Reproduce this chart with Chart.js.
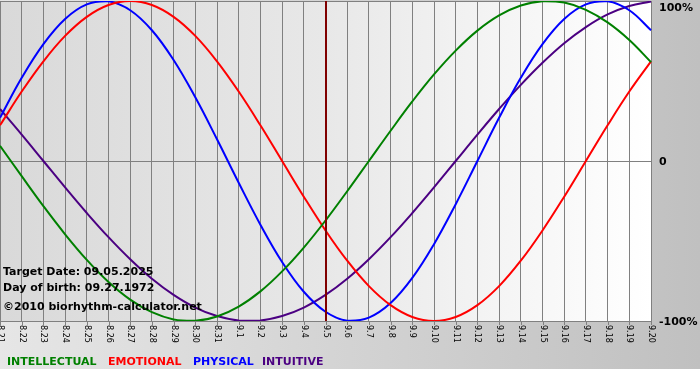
<!DOCTYPE html>
<html><head><meta charset="utf-8">
<script src="https://cdn.jsdelivr.net/npm/chart.js@4"></script>
<style>html,body{margin:0;padding:0;background:#fff}canvas{display:block}</style>
</head><body>
<canvas id="c" width="700" height="380"></canvas>
<script>
const days = ["8.21","8.22","8.23","8.24","8.25","8.26","8.27","8.28","8.29","8.30","8.31","9.1","9.2","9.3","9.4","9.5","9.6","9.7","9.8","9.9","9.10","9.11","9.12","9.13","9.14","9.15","9.16","9.17","9.18","9.19","9.20"];
const intellectual = [9.5,-9.5,-28.2,-45.8,-61.8,-75.6,-86.6,-94.5,-99.0,-99.9,-97.2,-91.0,-81.5,-69.0,-54.1,-37.2,-18.9,0,18.9,37.2,54.1,69.0,81.5,91.0,97.2,99.9,99.0,94.5,86.6,75.6,61.8];
const emotional = [22.3,43.4,62.3,78.2,90.1,97.5,100,97.5,90.1,78.2,62.3,43.4,22.3,0,-22.3,-43.4,-62.3,-78.2,-90.1,-97.5,-100,-97.5,-90.1,-78.2,-62.3,-43.4,-22.3,0,22.3,43.4,62.3];
const physical = [27.0,52.0,73.1,88.8,97.9,99.8,94.2,81.7,63.1,39.8,13.6,-13.6,-39.8,-63.1,-81.7,-94.2,-99.8,-97.9,-88.8,-73.1,-52.0,-27.0,0,27.0,52.0,73.1,88.8,97.9,99.8,94.2,81.7];
const intuitive = [32.5,16.5,0,-16.5,-32.5,-47.6,-61.4,-73.6,-83.7,-91.6,-96.9,-99.7,-99.7,-96.9,-91.6,-83.7,-73.6,-61.4,-47.6,-32.5,-16.5,0,16.5,32.5,47.6,61.4,73.6,83.7,91.6,96.9,99.7];
const yTickValues = [100, 0, -100];
const yTickLabels = ["100%", "0", "-100%"];
const targetDay = "9.5";
const infoLines = ["Target Date: 09.05.2025", "Day of birth: 09.27.1972", "\u00a92010 biorhythm-calculator.net"];

const C_INT = "#008000", C_EMO = "#ff0000", C_PHY = "#0000ff", C_ITU = "#4b0082";

const bgPlugin = {
  id: "bg",
  beforeDraw(chart) {
    const ctx = chart.ctx, a = chart.chartArea;
    ctx.save();
    ctx.fillStyle = "#ffffff";
    ctx.fillRect(0, 0, 700, 380);
    let g = ctx.createLinearGradient(0, 0, 700, 0);
    g.addColorStop(0, "#e6e6e6");
    g.addColorStop(1, "#c0c0c0");
    ctx.fillStyle = g;
    ctx.fillRect(0, 0, 700, 369);
    g = ctx.createLinearGradient(a.left, 0, a.right, 0);
    g.addColorStop(0, "#d9d9d9");
    g.addColorStop(0.5, "#e8e8e8");
    g.addColorStop(1, "#ffffff");
    ctx.fillStyle = g;
    ctx.fillRect(a.left, a.top, a.right - a.left, a.bottom - a.top);
    ctx.restore();
  },
  afterDatasetsDraw(chart) {
    const ctx = chart.ctx, a = chart.chartArea, xs = chart.scales.x, ys = chart.scales.y;
    ctx.save();
    // target day line
    const tx = Math.round(xs.getPixelForValue(days.indexOf(targetDay)));
    ctx.fillStyle = "#800000";
    ctx.fillRect(tx - 1, a.top, 2, a.bottom - a.top);
    // tick marks + rotated labels
    ctx.fillStyle = "#000";
    ctx.strokeStyle = "#808080";
    ctx.lineWidth = 1;
    ctx.font = "8px 'DejaVu Sans'";
    ctx.textAlign = "left";
    ctx.textBaseline = "middle";
    days.forEach((d, i) => {
      const x = Math.round(xs.getPixelForValue(i)) + 0.5;
      ctx.beginPath(); ctx.moveTo(x, a.bottom); ctx.lineTo(x, a.bottom + 4); ctx.stroke();
      ctx.save();
      ctx.translate(x, a.bottom + 4);
      ctx.rotate(Math.PI / 2);
      ctx.fillText(d, 0, 0);
      ctx.restore();
    });
    // right y labels
    ctx.font = "bold 11px 'DejaVu Sans'";
    yTickValues.forEach((v, i) => {
      let y = ys.getPixelForValue(v);
      if (y < 7) y = 7;
      ctx.fillText(yTickLabels[i], 659, y + 1);
    });
    // info lines
    ctx.fillText(infoLines[0], 3, 272);
    ctx.fillText(infoLines[1], 3, 288);
    ctx.fillText(infoLines[2], 3, 307);
    // legend
    const legendX = [7, 108, 193, 262];
    chart.data.datasets.forEach((ds, i) => {
      ctx.fillStyle = ds.borderColor;
      ctx.fillText(ds.label, legendX[i], 362);
    });
    ctx.restore();
  }
};

const mk = (label, data, color) => ({label, data, borderColor: color, borderWidth: 2, pointRadius: 0, tension: 0.4, fill: false});

new Chart(document.getElementById("c"), {
  type: "line",
  data: {
    labels: days,
    datasets: [
      mk("INTELLECTUAL", intellectual, C_INT),
      mk("EMOTIONAL", emotional, C_EMO),
      mk("PHYSICAL", physical, C_PHY),
      mk("INTUITIVE", intuitive, C_ITU)
    ]
  },
  options: {
    responsive: false,
    animation: false,
    devicePixelRatio: 1,
    layout: {padding: {left: 0, right: 49, top: 1, bottom: 59}},
    plugins: {legend: {display: false}, tooltip: {enabled: false}},
    scales: {
      x: {
        offset: false,
        ticks: {display: false},
        grid: {color: "#808080", lineWidth: 1, drawTicks: false},
        border: {display: true, color: "#808080"},
        afterFit(s) { s.height = 0; }
      },
      y: {
        min: -100, max: 100,
        afterBuildTicks(s) { s.ticks = yTickValues.map(v => ({value: v})); },
        ticks: {display: false},
        grid: {color: "#808080", lineWidth: 1, drawTicks: false},
        border: {display: false},
        afterFit(s) { s.width = 0; }
      }
    }
  },
  plugins: [bgPlugin]
});
</script>
</body></html>
